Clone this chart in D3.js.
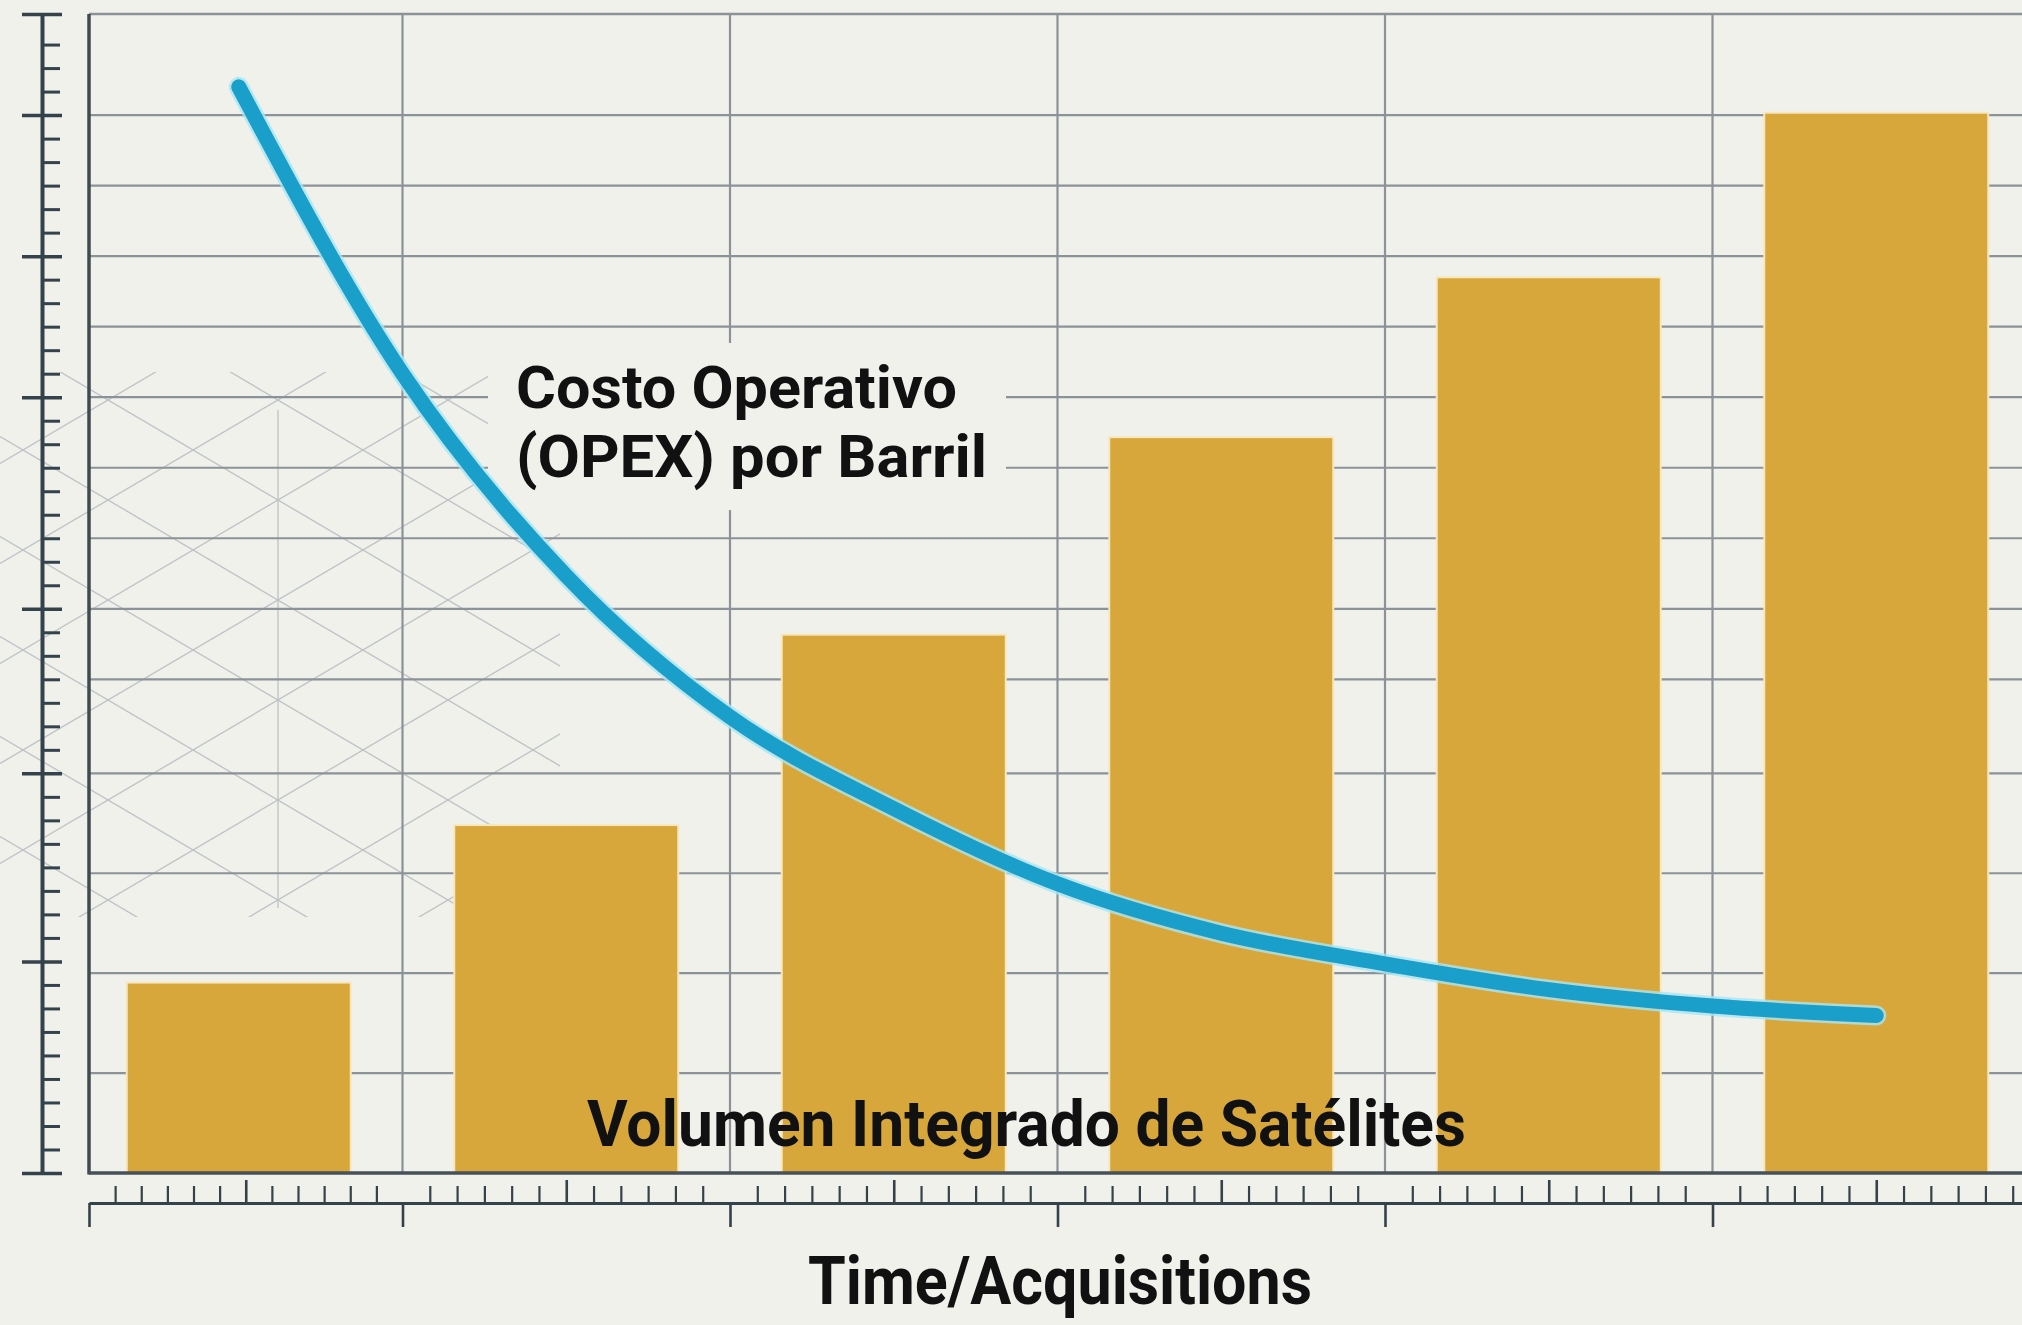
<!DOCTYPE html>
<html>
<head>
<meta charset="utf-8">
<script src="https://cdn.jsdelivr.net/npm/d3@7"></script>
<style>
  html, body { margin: 0; padding: 0; background: #f1f1ec; }
  svg { display: block; }
</style>
</head>
<body>
<svg id="chart" width="2022" height="1325"></svg>
<script>
// stages along the time axis (no labels drawn in the original)
const stages = ["Adq 1", "Adq 2", "Adq 3", "Adq 4", "Adq 5", "Adq 6"];
// integrated satellite volume, ruler units
const volumen = [8.1, 14.8, 22.9, 31.3, 38.1, 45.1];
// OPEX per barrel curve, read along the time axis (stage units)
const opexT = [0.5, 1, 1.5, 2, 2.5, 3, 3.5, 4, 4.5, 5, 5.5];
const opex = [46.2, 34.0, 25.4, 19.4, 15.5, 12.3, 10.2, 8.9, 7.8, 7.1, 6.7];
// ruler and grid marks
const yMajor = [0, 9, 17, 24, 33, 39, 45, 49.3];
const yGrid = [4.25, 8.5, 12.75, 17, 21, 24, 27, 30, 33, 36, 39, 42, 45];
const xMajor = [0, 1, 2, 3, 4, 5];
const xGrid = [1, 2, 3, 4, 5];

const width = 2022, height = 1325;
const svg = d3.select("#chart");

const y = d3.scaleLinear().domain([0, 49.3]).range([1173, 14]);
const x = d3.scaleBand().domain(stages).range([75, 2040])
  .paddingInner(0.316).paddingOuter(0.158);
const xt = d3.scaleLinear().domain([0, 6]).range([75, 2040]);
// bottom ruler, first section is squeezed against the axis
const xr = d3.scaleLinear().domain([0, 1, 6]).range([89, 402.5, 2040]);

const ink = "#34424b";
const gridCol = "#8b9298";

svg.append("rect").attr("width", width).attr("height", height).attr("fill", "#f1f1ec");

// faint drafting lattice behind the grid
svg.append("clipPath").attr("id", "latclip")
  .append("rect").attr("x", 0).attr("y", 372).attr("width", 560).attr("height", 545);
const lat = svg.append("g").attr("clip-path", "url(#latclip)")
  .attr("stroke", "#9aa3ab").attr("stroke-width", 1.3).attr("opacity", 0.6).attr("fill", "none");
const slope = 100 / 170;
d3.range(-200, 1500, 100).forEach(function(c) {
  lat.append("line").attr("x1", 0).attr("y1", c - slope * 278).attr("x2", 600).attr("y2", c + slope * 322);
  lat.append("line").attr("x1", 0).attr("y1", c + slope * 278).attr("x2", 600).attr("y2", c - slope * 322);
});
lat.append("line").attr("x1", 278).attr("y1", 410).attr("x2", 278).attr("y2", 908);

// grid
svg.append("g").selectAll("line").data(yGrid).join("line")
  .attr("x1", xr(0)).attr("x2", width)
  .attr("y1", d => y(d)).attr("y2", d => y(d))
  .attr("stroke", gridCol).attr("stroke-width", 2.2);
svg.append("g").selectAll("line").data(xGrid).join("line")
  .attr("x1", d => xt(d)).attr("x2", d => xt(d))
  .attr("y1", y(49.3)).attr("y2", y(0))
  .attr("stroke", gridCol).attr("stroke-width", 2.2);
svg.append("line")
  .attr("x1", xr(0)).attr("x2", width).attr("y1", y(49.3)).attr("y2", y(49.3))
  .attr("stroke", gridCol).attr("stroke-width", 2.6);

// plate behind the cost label
svg.append("rect").attr("x", 488).attr("y", 343).attr("width", 518).attr("height", 167)
  .attr("fill", "#f1f1ec");

// bars
svg.append("g").selectAll("rect").data(volumen).join("rect")
  .attr("x", (d, i) => x(stages[i]))
  .attr("y", d => y(d))
  .attr("width", x.bandwidth())
  .attr("height", d => y(0) - y(d))
  .attr("fill", "#d7a73c")
  .attr("stroke", "#f6e7bf").attr("stroke-width", 2);

// OPEX curve
const pts = opexT.map((t, i) => [xt(t), y(opex[i])]);
const line = d3.line().curve(d3.curveMonotoneX);
svg.append("path").attr("d", line(pts)).attr("fill", "none")
  .attr("stroke", "#a9e6f4").attr("stroke-width", 20).attr("stroke-linecap", "round").attr("opacity", 0.8);
svg.append("path").attr("d", line(pts)).attr("fill", "none")
  .attr("stroke", "#1a9fca").attr("stroke-width", 15).attr("stroke-linecap", "round");

// plot axes
svg.append("line").attr("x1", xr(0)).attr("x2", xr(0)).attr("y1", y(49.3)).attr("y2", y(0) + 1.5)
  .attr("stroke", "#3f4a51").attr("stroke-width", 3.5);
svg.append("line").attr("x1", xr(0)).attr("x2", width).attr("y1", y(0)).attr("y2", y(0))
  .attr("stroke", "#46515a").attr("stroke-width", 3.5);

// left ruler
const yMinor = d3.range(1, 49).filter(v => yMajor.indexOf(v) < 0);
svg.append("g").attr("transform", translate(42, 0))
  .call(d3.axisRight(y).tickValues(yMinor).tickSize(18).tickSizeOuter(0).tickFormat(""))
  .attr("color", ink)
  .call(g => g.select(".domain").attr("stroke-width", 4))
  .call(g => g.selectAll(".tick line").attr("stroke-width", 3));
svg.append("g").attr("transform", translate(22, 0))
  .call(d3.axisRight(y).tickValues(yMajor).tickSize(40).tickFormat(""))
  .attr("color", ink)
  .call(g => g.select(".domain").remove())
  .call(g => g.selectAll(".tick line").attr("stroke-width", 3.5));

// bottom ruler
const xMinor = [], xMid = [];
d3.range(0, 6).forEach(function(k) {
  d3.range(1, 12).forEach(function(j) {
    if (j == 6) xMid.push(k + j / 12);
    else xMinor.push(k + j / 12);
  });
});
svg.append("g").attr("transform", translate(0, 1203))
  .call(d3.axisTop(xr).tickValues(xMinor).tickSize(17).tickSizeOuter(0).tickFormat(""))
  .attr("color", ink)
  .call(g => g.select(".domain").attr("stroke-width", 3))
  .call(g => g.selectAll(".tick line").attr("stroke-width", 2.2));
svg.append("g").attr("transform", translate(0, 1203))
  .call(d3.axisTop(xr).tickValues(xMid).tickSize(23).tickFormat(""))
  .attr("color", ink)
  .call(g => g.select(".domain").remove())
  .call(g => g.selectAll(".tick line").attr("stroke-width", 2.6));
svg.append("g").attr("transform", translate(0, 1203))
  .call(d3.axisBottom(xr).tickValues(xMajor).tickSize(24).tickFormat(""))
  .attr("color", ink)
  .call(g => g.select(".domain").remove())
  .call(g => g.selectAll(".tick line").attr("stroke-width", 2.6));

// labels
const font = "Roboto, 'Liberation Sans', sans-serif";
function label(txt, lx, ly, size, len) {
  svg.append("text").attr("x", lx).attr("y", ly)
    .attr("font-family", font).attr("font-weight", 700).attr("font-size", size)
    .attr("fill", "#111")
    .attr("textLength", len).attr("lengthAdjust", "spacingAndGlyphs")
    .text(txt);
}
label("Costo Operativo", 516, 408, 60, 441);
label("(OPEX) por Barril", 516, 477, 60, 471);
label("Volumen Integrado de Satélites", 587, 1146, 64, 879);
label("Time/Acquisitions", 808, 1304, 67, 504);

function translate(tx, ty) {
  return "translate(" + tx + "," + ty + ")";
}
</script>
</body>
</html>
